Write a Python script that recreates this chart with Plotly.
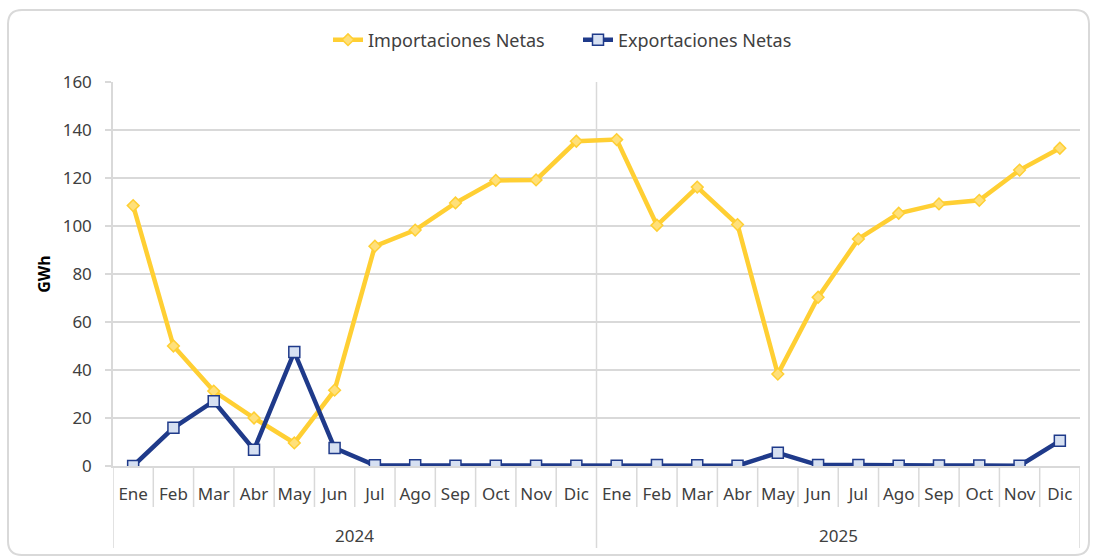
import plotly.graph_objects as go

months = ["Ene", "Feb", "Mar", "Abr", "May", "Jun", "Jul", "Ago", "Sep", "Oct", "Nov", "Dic"]
years = ["2024", "2025"]

importaciones = [108.5, 50.0, 31.2, 20.0, 9.6, 31.6, 91.6, 98.3, 109.6, 119.0, 119.2, 135.3,
                 136.0, 100.3, 116.2, 100.6, 38.3, 70.3, 94.6, 105.3, 109.2, 110.7, 123.3, 132.4]
exportaciones = [0.0, 15.9, 27.0, 6.8, 47.5, 7.5, 0.3, 0.3, 0.1, 0.1, 0.1, 0.1,
                 0.1, 0.4, 0.3, 0.1, 5.5, 0.4, 0.4, 0.1, 0.2, 0.2, 0.1, 10.5]

n = len(months) * len(years)
xi = list(range(n))
tick_text = months * len(years)

grid = "#d9d9d9"
txt = "#404040"
FONT = "Noto Sans"
FS = 17

fig = go.Figure()
fig.add_trace(go.Scatter(
    x=xi, y=importaciones, name="Importaciones Netas",
    mode="lines+markers",
    line=dict(color="#FFCF33", width=4.5),
    marker=dict(symbol="diamond", size=9, color="#FFE07A", line=dict(color="#FFCF33", width=1.5)),
))
fig.add_trace(go.Scatter(
    x=xi, y=exportaciones, name="Exportaciones Netas",
    mode="lines+markers",
    line=dict(color="#1F3A8A", width=4.5),
    marker=dict(symbol="square", size=11, color="#D6E0F2", line=dict(color="#1F3A8A", width=1.5)),
))

L, R, T, B = 113, 16, 82, 91
W, H = 1096, 557
pw, ph = W - L - R, H - T - B

def px(x):
    return (x - L) / pw

def py(y):
    return (H - B - y) / ph

x0, x1, y0, y1 = px(8), px(1089), py(555), py(10)
rx, ry = 14 / pw, 14 / ph
path = (f"M {x0+rx},{y1} L {x1-rx},{y1} Q {x1},{y1} {x1},{y1-ry} "
        f"L {x1},{y0+ry} Q {x1},{y0} {x1-rx},{y0} L {x0+rx},{y0} "
        f"Q {x0},{y0} {x0},{y0+ry} L {x0},{y1-ry} Q {x0},{y1} {x0+rx},{y1} Z")

shapes = [
    dict(type="path", xref="paper", yref="paper", path=path,
         line=dict(color="#d9d9d9", width=2), fillcolor="rgba(0,0,0,0)", layer="below"),
]
month_bottom = py(507)
year_bottom = py(548)
for b in range(1, n):
    if b % len(months) == 0:
        continue
    shapes.append(dict(type="line", xref="x", yref="paper", x0=b - 0.5, x1=b - 0.5,
                       y0=0, y1=month_bottom, line=dict(color=grid, width=1.5)))
for b in range(0, n + 1, len(months)):
    top = 1 if 0 < b < n else 0
    shapes.append(dict(type="line", xref="x", yref="paper", x0=b - 0.5, x1=b - 0.5,
                       y0=top, y1=year_bottom, line=dict(color=grid, width=1.5), layer="below"))

annotations = []
for i, yr in enumerate(years):
    annotations.append(dict(x=i * len(months) + (len(months) - 1) / 2, xref="x",
                            y=py(535), yref="paper", text=yr, showarrow=False,
                            font=dict(family=FONT, size=FS, color=txt),
                            xanchor="center", yanchor="middle"))

fig.update_layout(
    width=W, height=H,
    margin=dict(l=L, r=R, t=T, b=B, autoexpand=False),
    paper_bgcolor="white", plot_bgcolor="white",
    font=dict(family=FONT, size=FS, color=txt),
    showlegend=True,
    legend=dict(orientation="h", x=px(578), xanchor="center", y=py(40), yanchor="middle",
                font=dict(family=FONT, size=18, color=txt), bgcolor="rgba(0,0,0,0)",
                entrywidth=205, entrywidthmode="pixels", tracegroupgap=0),
    shapes=shapes,
    annotations=annotations,
)
fig.update_xaxes(
    range=[-0.5, n - 0.5],
    tickmode="array", tickvals=xi, ticktext=tick_text, tickangle=0,
    showgrid=False, zeroline=False,
    showline=True, linecolor=grid, linewidth=1.5,
    ticks="", ticklabelstandoff=12,
    tickfont=dict(family=FONT, size=FS, color=txt),
    automargin=False,
)
fig.update_yaxes(
    range=[0, 160], dtick=20,
    showgrid=True, gridcolor=grid, gridwidth=1.5,
    zeroline=True, zerolinecolor=grid, zerolinewidth=1.5,
    showline=True, linecolor=grid, linewidth=1.5,
    ticks="outside", ticklen=6, tickcolor=grid, tickwidth=1.5,
    ticklabelstandoff=10,
    tickfont=dict(family=FONT, size=FS, color=txt),
    title=dict(text="<b>GWh</b>", font=dict(family=FONT, size=16, color="#000000"), standoff=8),
    automargin=False,
)

fig.write_html("out.html", config={"displayModeBar": False},
               post_script="document.body.style.margin='0';document.body.style.overflow='hidden';")
